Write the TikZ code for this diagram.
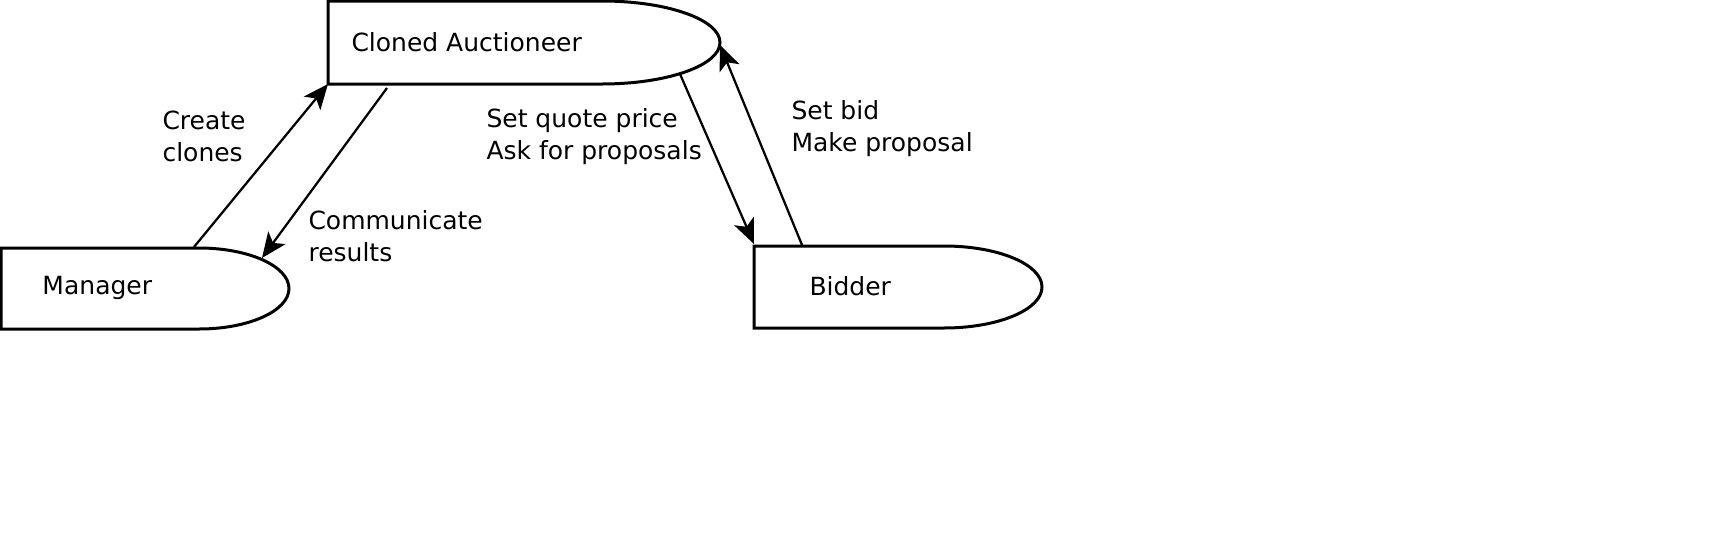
\documentclass[tikz,border=0pt]{standalone}
\usepackage{fontspec}
\setmainfont{DejaVu Sans}
\usetikzlibrary{arrows.meta}
\tikzset{
  actor/.style={draw, line width=1.2pt},
  actortext/.style={anchor=west, inner sep=0pt, font=\fontsize{10}{12.8}\selectfont},
  msg/.style={draw, line width=0.9pt, -{Stealth[length=10pt, width=8.5pt, inset=2.5pt]}},
  msgtext/.style={anchor=west, align=left, inner sep=0pt, font=\fontsize{10}{12.8}\selectfont},
}
\begin{document}
\begin{tikzpicture}[x=0.4pt, y=-0.4pt]
    \useasboundingbox (0,0) rectangle (1732,554);
    % boxes
    \draw[actor] (328,1) -- (602,1) arc[start angle=-90, end angle=90, x radius=118, y radius=41.5] -- (328,84) -- cycle;
    \draw[actor] (1,248) -- (199,248) arc[start angle=-90, end angle=90, x radius=90, y radius=40.5] -- (1,329) -- cycle;
    \draw[actor] (754,246) -- (944,246) arc[start angle=-90, end angle=90, x radius=98, y radius=41] -- (754,328) -- cycle;
    \node[actortext] (auct) at (351,42) {Cloned Auctioneer};
    \node[actortext] (mgr) at (42,288) {Manager};
    \node[actortext] (bid) at (809,286) {Bidder};
    % arrow ends
    \coordinate (mgrout) at (194,247);
    \coordinate (auctin) at (328,84);
    \coordinate (auctout) at (387,88);
    \coordinate (mgrin) at (262,258);
    \coordinate (quoteout) at (680,74);
    \coordinate (bidin) at (754,244);
    \coordinate (bidout) at (802,245);
    \coordinate (bidback) at (720,45);
    \draw[msg] (mgrout) -- (auctin);
    \draw[msg] (auctout) -- (mgrin);
    \draw[msg] (quoteout) -- (bidin);
    \draw[msg] (bidout) -- (bidback);
    % labels
    \node[msgtext] (create) at (162,136) {Create\\clones};
    \node[msgtext] (comm) at (308,236) {Communicate\\results};
    \node[msgtext] (quote) at (486,137) {Set quote price\\Ask for proposals};
    \node[msgtext] (setbid) at (791,129) {Set bid\\Make proposal};
\end{tikzpicture}
\end{document}
